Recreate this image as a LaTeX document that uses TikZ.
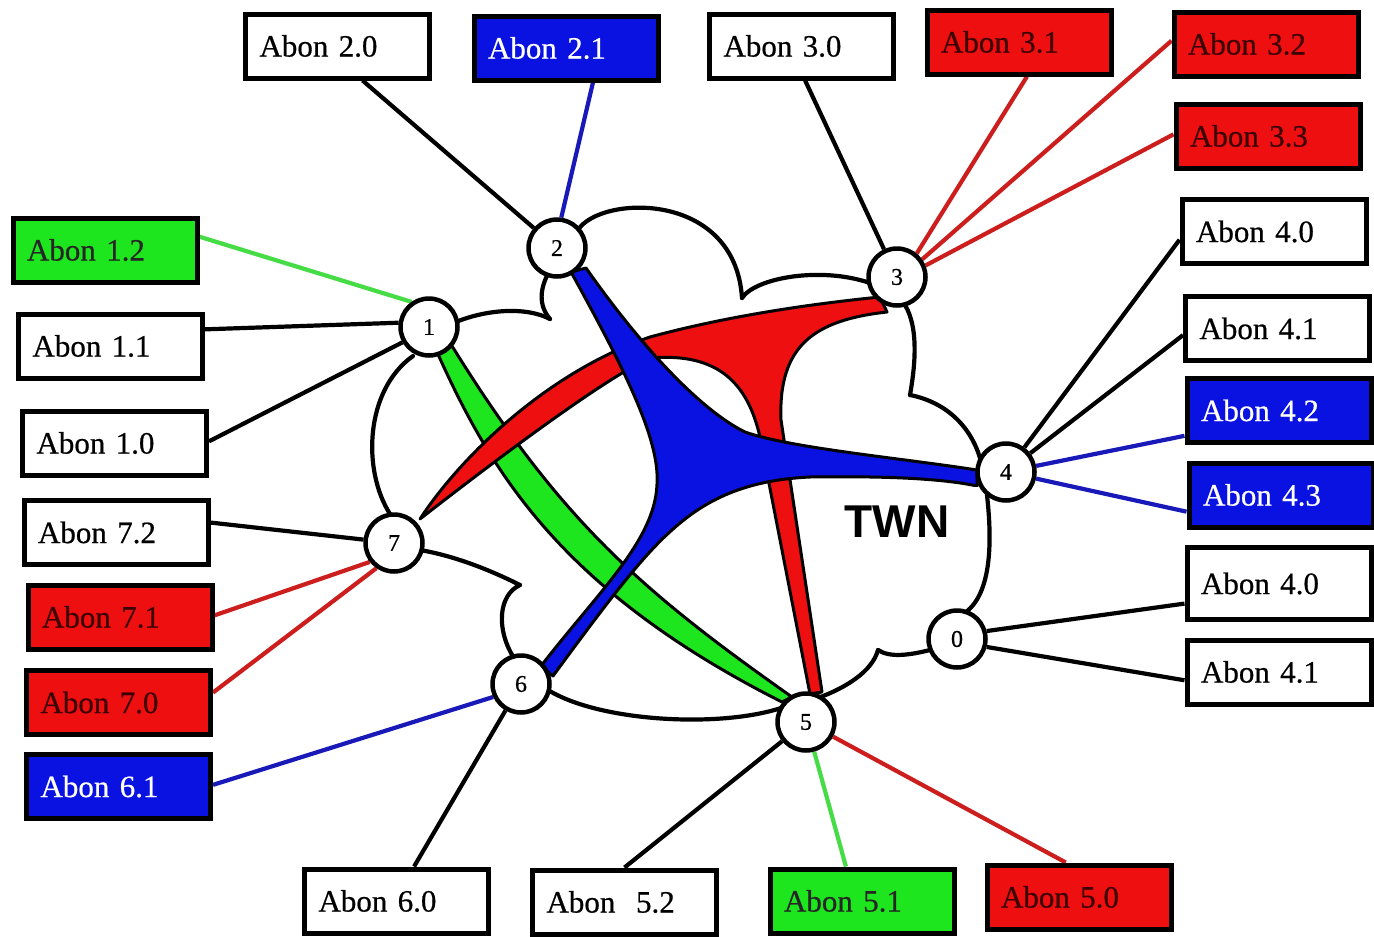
\documentclass[tikz,border=0pt]{standalone}
\usepackage{fontspec}
\setmainfont{Liberation Serif}[UprightFeatures={FakeBold=0.6}]
\newfontfamily\twnfont{Liberation Sans}
\usetikzlibrary{backgrounds}
\definecolor{cblue}{RGB}{10,18,225}
\definecolor{cred}{RGB}{238,16,16}
\definecolor{cgreen}{RGB}{30,230,30}
\definecolor{lred}{RGB}{205,30,30}
\definecolor{lblue}{RGB}{25,25,185}
\definecolor{lgreen}{RGB}{70,220,70}
\definecolor{tred}{RGB}{60,0,0}
\begin{document}
\begin{tikzpicture}[x=1pt,y=-1pt,
  box/.style={draw=black, line width=5pt, rectangle, minimum height=64pt,
    text width=156pt, inner xsep=14pt, inner ysep=0pt, align=left,
    font=\fontsize{31}{36}\selectfont},
  wbox/.style={box, fill=white, text=black},
  bbox/.style={box, fill=cblue, text=white},
  rbox/.style={box, fill=cred, text=tred},
  gbox/.style={box, fill=cgreen, text=black!85},
  hub/.style={circle, draw=black, line width=4.5pt, fill=white, minimum size=57pt,
    inner sep=0pt, font=\fontsize{24}{24}\selectfont},
  cloudline/.style={line width=4.2pt, line join=round, line cap=round},
  link/.style={line width=4.2pt},
  blob/.style={draw=black, line width=3pt, line join=round}]
\useasboundingbox (0,0) rectangle (1374,937);

% boxes
\node[wbox] (b20) at (337.5,46) {Abon 2.0};
\node[bbox] (b21) at (566,48) {Abon 2.1};
\node[wbox] (b30) at (801.5,46) {Abon 3.0};
\node[rbox] (b31) at (1019,42) {Abon 3.1};
\node[rbox] (b32) at (1266,44) {Abon 3.2};
\node[rbox] (b33) at (1268,136) {Abon 3.3};
\node[wbox] (b40) at (1274,231.5) {Abon 4.0};
\node[wbox] (b41) at (1277.5,328.5) {Abon 4.1};
\node[bbox] (b42) at (1279,410.5) {Abon 4.2};
\node[bbox] (b43) at (1281,495) {Abon 4.3};
\node[wbox, minimum height=72pt] (b40b) at (1279,583.5) {Abon 4.0};
\node[wbox] (b41b) at (1279,672) {Abon 4.1};
\node[gbox] (b12) at (105,250) {Abon 1.2};
\node[wbox] (b11) at (110.5,346) {Abon 1.1};
\node[wbox] (b10) at (114.5,443) {Abon 1.0};
\node[wbox] (b72) at (116,532.5) {Abon 7.2};
\node[rbox] (b71) at (120,617) {Abon 7.1};
\node[rbox] (b70) at (118.5,702.5) {Abon 7.0};
\node[bbox] (b61) at (118.5,786.5) {Abon 6.1};
\node[wbox] (b60) at (396.5,901) {Abon 6.0};
\node[wbox] (b52) at (624.5,902) {Abon\ \ 5.2};
\node[gbox] (b51) at (862,901) {Abon 5.1};
\node[rbox] (b50) at (1079,897) {Abon 5.0};

% TWN label
\node[font=\twnfont\bfseries\fontsize{46}{46}\selectfont, inner sep=0pt] (twn) at (897,522) {TWN};

% hubs
\node[hub] (n0) at (957,639) {0};
\node[hub] (n1) at (429,327) {1};
\node[hub] (n2) at (557,248) {2};
\node[hub] (n3) at (897,277) {3};
\node[hub] (n4) at (1006,472) {4};
\node[hub] (n5) at (806,722) {5};
\node[hub] (n6) at (521,684) {6};
\node[hub] (n7) at (394,543) {7};

\begin{scope}[on background layer]
\fill[white] (0,0) rectangle (1374,937);
% cloud
\draw[cloudline] (578,230) .. controls (600,195) and (735,190) .. (742,298);
\draw[cloudline] (742,298) .. controls (755,278) and (820,266) .. (870,283);
\draw[cloudline] (905,305) .. controls (920,330) and (914,372) .. (910,395);
\draw[cloudline] (910,395) .. controls (945,402) and (970,425) .. (980,458);
\draw[cloudline] (987,495) .. controls (992,540) and (992,592) .. (966,612);
\draw[cloudline] (930,650) .. controls (910,655) and (890,658) .. (878,650);
\draw[cloudline] (878,650) .. controls (872,672) and (845,688) .. (818,698);
\draw[cloudline] (781,708) .. controls (720,728) and (600,722) .. (548,690);
\draw[cloudline] (514,658) .. controls (496,630) and (498,595) .. (520,585);
\draw[cloudline] (520,585) .. controls (490,570) and (455,556) .. (420,550);
\draw[cloudline] (390,514) .. controls (362,470) and (365,390) .. (413,356);
\draw[cloudline] (456,322) .. controls (485,310) and (525,306) .. (550,319);
\draw[cloudline] (550,319) .. controls (538,305) and (540,288) .. (549,272);
% green band 1-5
\filldraw[blob, fill=cgreen] (437,352) .. controls (490,470) and (560,590) .. (782,702)
  -- (792,697) .. controls (640,590) and (560,520) .. (452,346) -- cycle;
% red band 7-3-5
\filldraw[blob, fill=cred] (420,519) .. controls (455,465) and (540,375) .. (650,337)
  .. controls (720,318) and (800,305) .. (880,297)
  -- (887,312) .. controls (815,320) and (778,345) .. (781,420)
  -- (822,692) -- (810,694) -- (760,437)
  .. controls (748,385) and (720,352) .. (650,358)
  .. controls (600,380) and (470,480) .. (420,519) -- cycle;
% blue star 2-4-6
\filldraw[blob, fill=cblue] (571,272) .. controls (625,370) and (660,440) .. (657,484)
  .. controls (655,540) and (600,590) .. (541,666)
  -- (553,676) .. controls (600,612) and (640,558) .. (672,530)
  .. controls (705,500) and (745,480) .. (810,477)
  .. controls (880,476) and (940,478) .. (977,486)
  -- (977,470) .. controls (900,458) and (790,448) .. (745,432)
  .. controls (700,410) and (640,345) .. (586,268) -- cycle;
% white patch behind TWN
\fill[white] (827,487) rectangle (980,580);
% connectors
\draw[link] (b20.-54) -- (n2);
\draw[link, lblue] (b21.-52) -- (n2.82);
\draw[link] (b30.-84) -- (n3);
\draw[link, lred] (b31.-77) -- (n3.50);
\draw[link, lred] (b32.178) -- (n3.35);
\draw[link, lred] (b33.179) -- (n3.22);
\draw[link] (b40.-175) -- (n4);
\draw[link] (b41.-176) -- (n4);
\draw[link, lblue] (b42.-165) -- (n4);
\draw[link, lblue] (b43.-170) -- (n4);
\draw[link] (b40b.-168) -- (n0.15);
\draw[link] (b41b.-175) -- (n0.-15);
\draw[link, lred] (b50.111) -- (n5);
\draw[link, lgreen] (b51.115) -- (n5);
\draw[link] (b52.90) -- (n5);
\draw[link] (b60.63) -- (n6);
\draw[link, lblue] (b61.1) -- (n6.205);
\draw[link, lred] (b70.6) -- (n7.235);
\draw[link, lred] (b71.1) -- (n7.218);
\draw[link] (b72.6) -- (n7);
\draw[link] (b10.1) -- (n1.210);
\draw[link] (b11.10) -- (n1.172);
\draw[link, lgreen] (b12.8) -- (n1.125);
\end{scope}
\end{tikzpicture}
\end{document}
